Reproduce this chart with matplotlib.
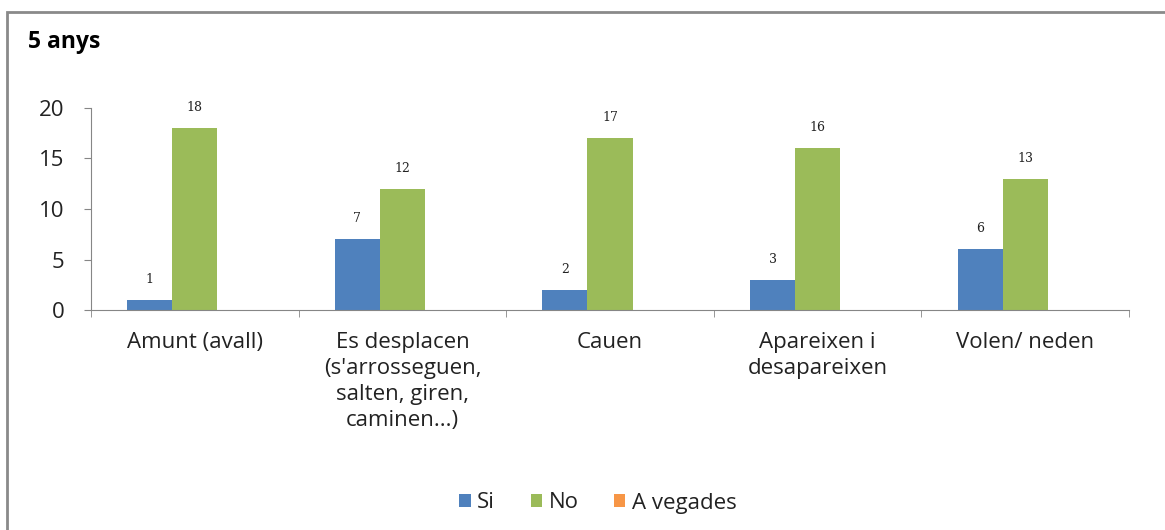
import numpy as np
import matplotlib
matplotlib.use('Agg')
import matplotlib.pyplot as plt
from matplotlib.patches import Rectangle

categories = ['Amunt (avall)',
              "Es desplacen\n(s'arrosseguen,\nsalten, giren,\ncaminen...)",
              'Cauen',
              'Apareixen i\ndesapareixen',
              'Volen/ neden']
si = [1, 7, 2, 3, 6]
no = [18, 12, 17, 16, 13]
a_vegades = [0, 0, 0, 0, 0]

series = ['Si', 'No', 'A vegades']
colors = ['#4F81BD', '#9BBB59', '#F79646']
AXIS_GRAY = '#868686'

plt.rcParams['font.family'] = ['Open Sans', 'DejaVu Sans']

fig = plt.figure(figsize=(11.65, 5.3), dpi=100)
ax = fig.add_axes([91/1165, 1 - 310/530, (1129 - 91)/1165, (310 - 108)/530])

# outer chart frame (runs off the right and bottom of the picture)
fig.patches.append(Rectangle((7/1165, -0.05), 1.1, 1 - 12/530 + 0.05,
                             transform=fig.transFigure, fill=False,
                             edgecolor='#8a8a8a', lw=2, zorder=0))

x = np.arange(len(categories))
w = 0.217
for k, (vals, name, c) in enumerate(zip([si, no, a_vegades], series, colors)):
    bars = ax.bar(x + (k - 1)*w, vals, w, color=c, label=name, zorder=2)
    if name != 'A vegades':
        for b, v in zip(bars, vals):
            ax.text(b.get_x() + b.get_width()/2, v + 1.4, str(v),
                    ha='center', va='bottom', fontsize=9,
                    family='DejaVu Serif', color='#222222')

ax.set_xlim(-0.5, len(categories) - 0.5)
ax.set_ylim(0, 20)
ax.set_yticks([0, 5, 10, 15, 20])
ax.tick_params(axis='y', labelsize=16, length=5, color=AXIS_GRAY, pad=14,
               labelcolor='#222222')
ax.set_xticks(x)
ax.set_xticklabels(categories, fontsize=16, linespacing=1.3, va='top',
                   color='#222222')
ax.tick_params(axis='x', which='major', length=0, pad=16)
ax.set_xticks(np.arange(-0.5, len(categories)), minor=True)
ax.tick_params(axis='x', which='minor', length=5, color=AXIS_GRAY)
for s in ['top', 'right']:
    ax.spines[s].set_visible(False)
for s in ['left', 'bottom']:
    ax.spines[s].set_color(AXIS_GRAY)

fig.text(28/1165, 1 - 42/530, '5 anys', fontsize=16.5, fontweight='bold',
         ha='left', va='center')

fig.legend(loc='center', bbox_to_anchor=(598/1165, 1 - 503/530), ncol=3,
           frameon=False, fontsize=16, handlelength=0.5, handleheight=0.5,
           handletextpad=0.3, columnspacing=1.6, labelcolor='#222222')

fig.savefig('out.png', dpi=100)
